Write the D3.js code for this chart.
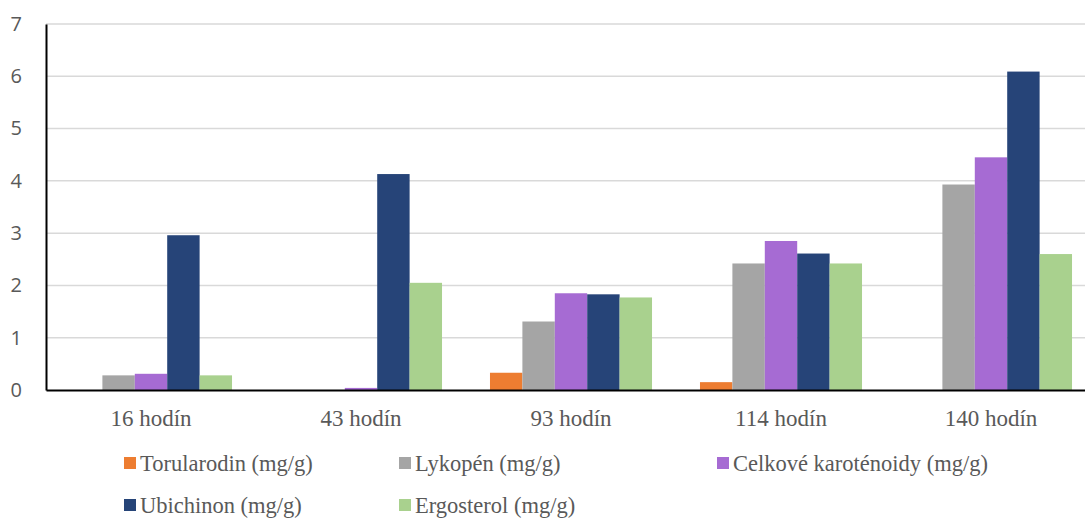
<!DOCTYPE html>
<html>
<head>
<meta charset="utf-8">
<script src="https://cdn.jsdelivr.net/npm/d3@7"></script>
<style>
  body { margin: 0; background: #fff; overflow: hidden; }
</style>
</head>
<body>
<div id="chart"></div>
<script>
var categories = ['16 hodín', '43 hodín', '93 hodín', '114 hodín', '140 hodín'];
var seriesNames = ['Torularodin (mg/g)', 'Lykopén (mg/g)', 'Celkové karoténoidy (mg/g)', 'Ubichinon (mg/g)', 'Ergosterol (mg/g)'];
var seriesColors = ['#ED7D31', '#A5A5A5', '#A66BD3', '#264478', '#A9D18E'];
var torularodin = [0, 0, 0.33, 0.15, 0];
var lykopen = [0.28, 0, 1.31, 2.42, 3.93];
var karotenoidy = [0.31, 0.04, 1.85, 2.85, 4.45];
var ubichinon = [2.96, 4.13, 1.83, 2.61, 6.09];
var ergosterol = [0.28, 2.05, 1.77, 2.42, 2.60];
var yTicks = [0, 1, 2, 3, 4, 5, 6, 7];

var seriesValues = [torularodin, lykopen, karotenoidy, ubichinon, ergosterol];

var width = 1085,
    height = 519,
    plotRight = 1096,   // plot area runs a bit past the picture edge
    margin = {left: 46, top: 24, bottom: 129};

var svg = d3.select('#chart').append('svg')
    .attr('width', width)
    .attr('height', height);

var x0 = d3.scaleBand()
    .domain(categories)
    .range([margin.left, plotRight])
    .paddingInner(0)
    .paddingOuter(0);

var x1 = d3.scaleBand()
    .domain(d3.range(seriesNames.length))
    .range([0, x0.bandwidth()])
    .paddingOuter(0.74);

var y = d3.scaleLinear()
    .domain([0, 7])
    .range([height - margin.bottom, margin.top]);

// gridlines
svg.append('g')
  .selectAll('line')
  .data(yTicks.slice(1))
  .enter().append('line')
    .attr('x1', margin.left)
    .attr('x2', plotRight)
    .attr('y1', function(d) { return y(d); })
    .attr('y2', function(d) { return y(d); })
    .attr('stroke', '#d9d9d9')
    .attr('stroke-width', 1.5);

// bars
var rows = [];
categories.forEach(function(c, i) {
  seriesValues.forEach(function(s, j) {
    rows.push({cat: c, s: j, v: s[i]});
  });
});

svg.append('g')
  .selectAll('rect')
  .data(rows)
  .enter().append('rect')
    .attr('x', function(d) { return x0(d.cat) + x1(d.s); })
    .attr('width', x1.bandwidth())
    .attr('y', function(d) { return y(d.v); })
    .attr('height', function(d) { return y(0) - y(d.v); })
    .attr('fill', function(d) { return seriesColors[d.s]; });

// y axis
var yAxis = svg.append('g')
    .attr('transform', 'translate(' + margin.left + ',0)')
    .call(d3.axisLeft(y).tickValues(yTicks).tickSize(0).tickPadding(24).tickFormat(d3.format('d')));
yAxis.select('.domain').attr('stroke', '#000').attr('stroke-width', 2);
yAxis.selectAll('text')
    .attr('font-family', 'Open Sans, sans-serif')
    .attr('font-size', 20)
    .attr('fill', '#595959');

// x axis
var xAxis = svg.append('g')
    .attr('transform', 'translate(0,' + y(0) + ')')
    .call(d3.axisBottom(x0).tickSize(0).tickPadding(20));
xAxis.select('.domain').attr('stroke', '#000').attr('stroke-width', 2);
xAxis.selectAll('text')
    .attr('font-family', 'Liberation Serif, Times New Roman, serif')
    .attr('font-size', 23)
    .attr('fill', '#595959');

// legend
var legendPos = [[124, 463], [399, 463], [717, 463], [124, 505], [399, 505]];
var legend = svg.append('g')
  .selectAll('g')
  .data(seriesNames)
  .enter().append('g')
    .attr('transform', function(d, i) { return 'translate(' + legendPos[i][0] + ',' + legendPos[i][1] + ')'; });

legend.append('rect')
    .attr('x', 0)
    .attr('y', -6)
    .attr('width', 12)
    .attr('height', 12)
    .attr('fill', function(d, i) { return seriesColors[i]; });

legend.append('text')
    .attr('x', 16)
    .attr('y', 8)
    .attr('font-family', 'Liberation Serif, Times New Roman, serif')
    .attr('font-size', 22.5)
    .attr('fill', '#595959')
    .text(function(d) { return d; });
</script>
</body>
</html>
